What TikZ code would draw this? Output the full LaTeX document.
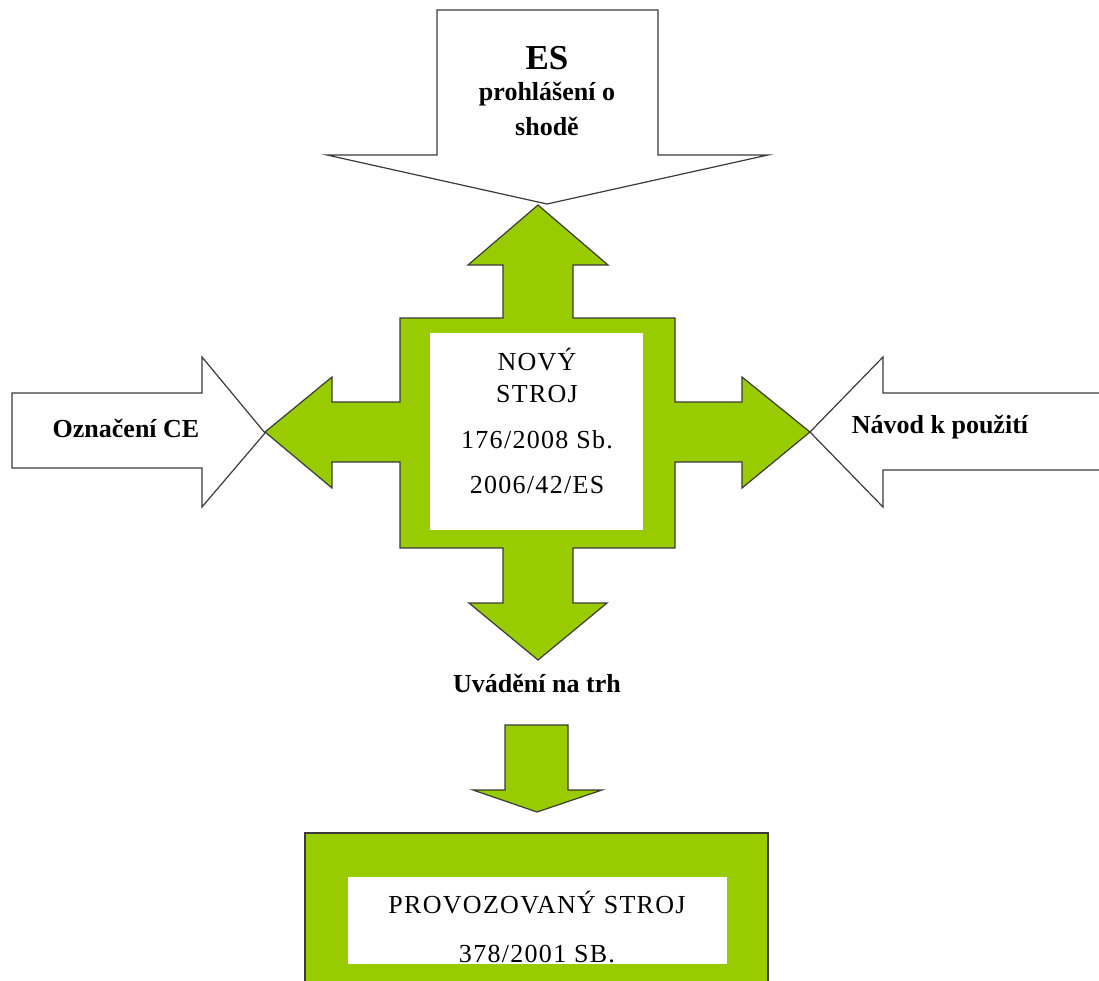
\documentclass[tikz,border=0pt]{standalone}
\usepackage{fontspec}
\setmainfont{Liberation Serif}
\newfontfamily\spacedserif[LetterSpace=5]{Liberation Serif}
\definecolor{leaf}{HTML}{99CC00}
\definecolor{rim}{HTML}{3A3A3A}
\tikzset{
  x=1pt, y=-1pt,
  greenshape/.style={fill=leaf, draw=rim, line width=1.2pt, line join=miter},
  whiteshape/.style={fill=white, draw=rim, line width=1.2pt, line join=miter},
  lbl/.style={font=\fontsize{26}{30}\selectfont\bfseries, anchor=base, inner sep=0pt},
  boxtxt/.style={font=\spacedserif\fontsize{26}{30}\selectfont, anchor=base, inner sep=0pt},
}
\begin{document}
\begin{tikzpicture}
\useasboundingbox (0,0) rectangle (1099,980);

% incoming white arrow from above
\path[whiteshape] (437,10) -- (658,10) -- (658,155) -- (768,155) -- (547,204)
  -- (327,155) -- (437,155) -- cycle;

% incoming white arrow from the left
\path[whiteshape] (12,393) -- (202,393) -- (202,357) -- (265,433) -- (202,507)
  -- (202,468) -- (12,468) -- cycle;

% incoming white arrow from the right (runs off the page)
\path[fill=white] (1100,393) -- (883,393) -- (883,357) -- (810,432) -- (883,507)
  -- (883,470) -- (1100,470) -- cycle;
\draw[draw=rim, line width=1.2pt, line join=miter] (1100,393) -- (883,393) -- (883,357)
  -- (810,432) -- (883,507) -- (883,470) -- (1100,470);

% green four-way cross
\path[greenshape] (538,205) -- (608,265) -- (573,265) -- (573,318) -- (675,318)
  -- (675,402) -- (742,402) -- (742,377) -- (810,432) -- (742,488) -- (742,462)
  -- (675,462) -- (675,548) -- (573,548) -- (573,603) -- (607,603) -- (538,660)
  -- (469,603) -- (503,603) -- (503,548) -- (400,548) -- (400,462) -- (332,462)
  -- (332,488) -- (265,432) -- (332,377) -- (332,402) -- (400,402) -- (400,318)
  -- (503,318) -- (503,265) -- (468,265) -- cycle;
\fill[white] (430,333) rectangle (643,530);

% short green arrow towards the operated machine
\path[greenshape] (505,725) -- (568,725) -- (568,790) -- (602,790) -- (537,812)
  -- (473,790) -- (505,790) -- cycle;

% operated machine frame
\path[greenshape] (305,833) -- (768,833) -- (768,990) -- (305,990) -- cycle;
\fill[white] (348,877) rectangle (727,964);

% labels
\node[lbl, font=\fontsize{35}{40}\selectfont\bfseries] (es) at (547,69) {ES};
\node[lbl] (es2) at (547,100) {prohlášení o};
\node[lbl] (es3) at (547,135) {shodě};

\node[boxtxt] (n1) at (537,370) {NOVÝ};
\node[boxtxt] (n2) at (537,402) {STROJ};
\node[boxtxt] (n3) at (537,448) {176/2008 Sb.};
\node[boxtxt] (n4) at (537,493) {2006/42/ES};

\node[lbl] (ce) at (126,437) {Označení CE};
\node[lbl] (navod) at (940,433) {Návod k použití};
\node[lbl] (trh) at (537,692) {Uvádění na trh};

\node[boxtxt] (p1) at (537,913) {PROVOZOVANÝ STROJ};
\begin{scope}
  \clip (348,877) rectangle (727,964);
  \node[boxtxt] (p2) at (537,962) {378/2001 SB.};
\end{scope}
\end{tikzpicture}
\end{document}
